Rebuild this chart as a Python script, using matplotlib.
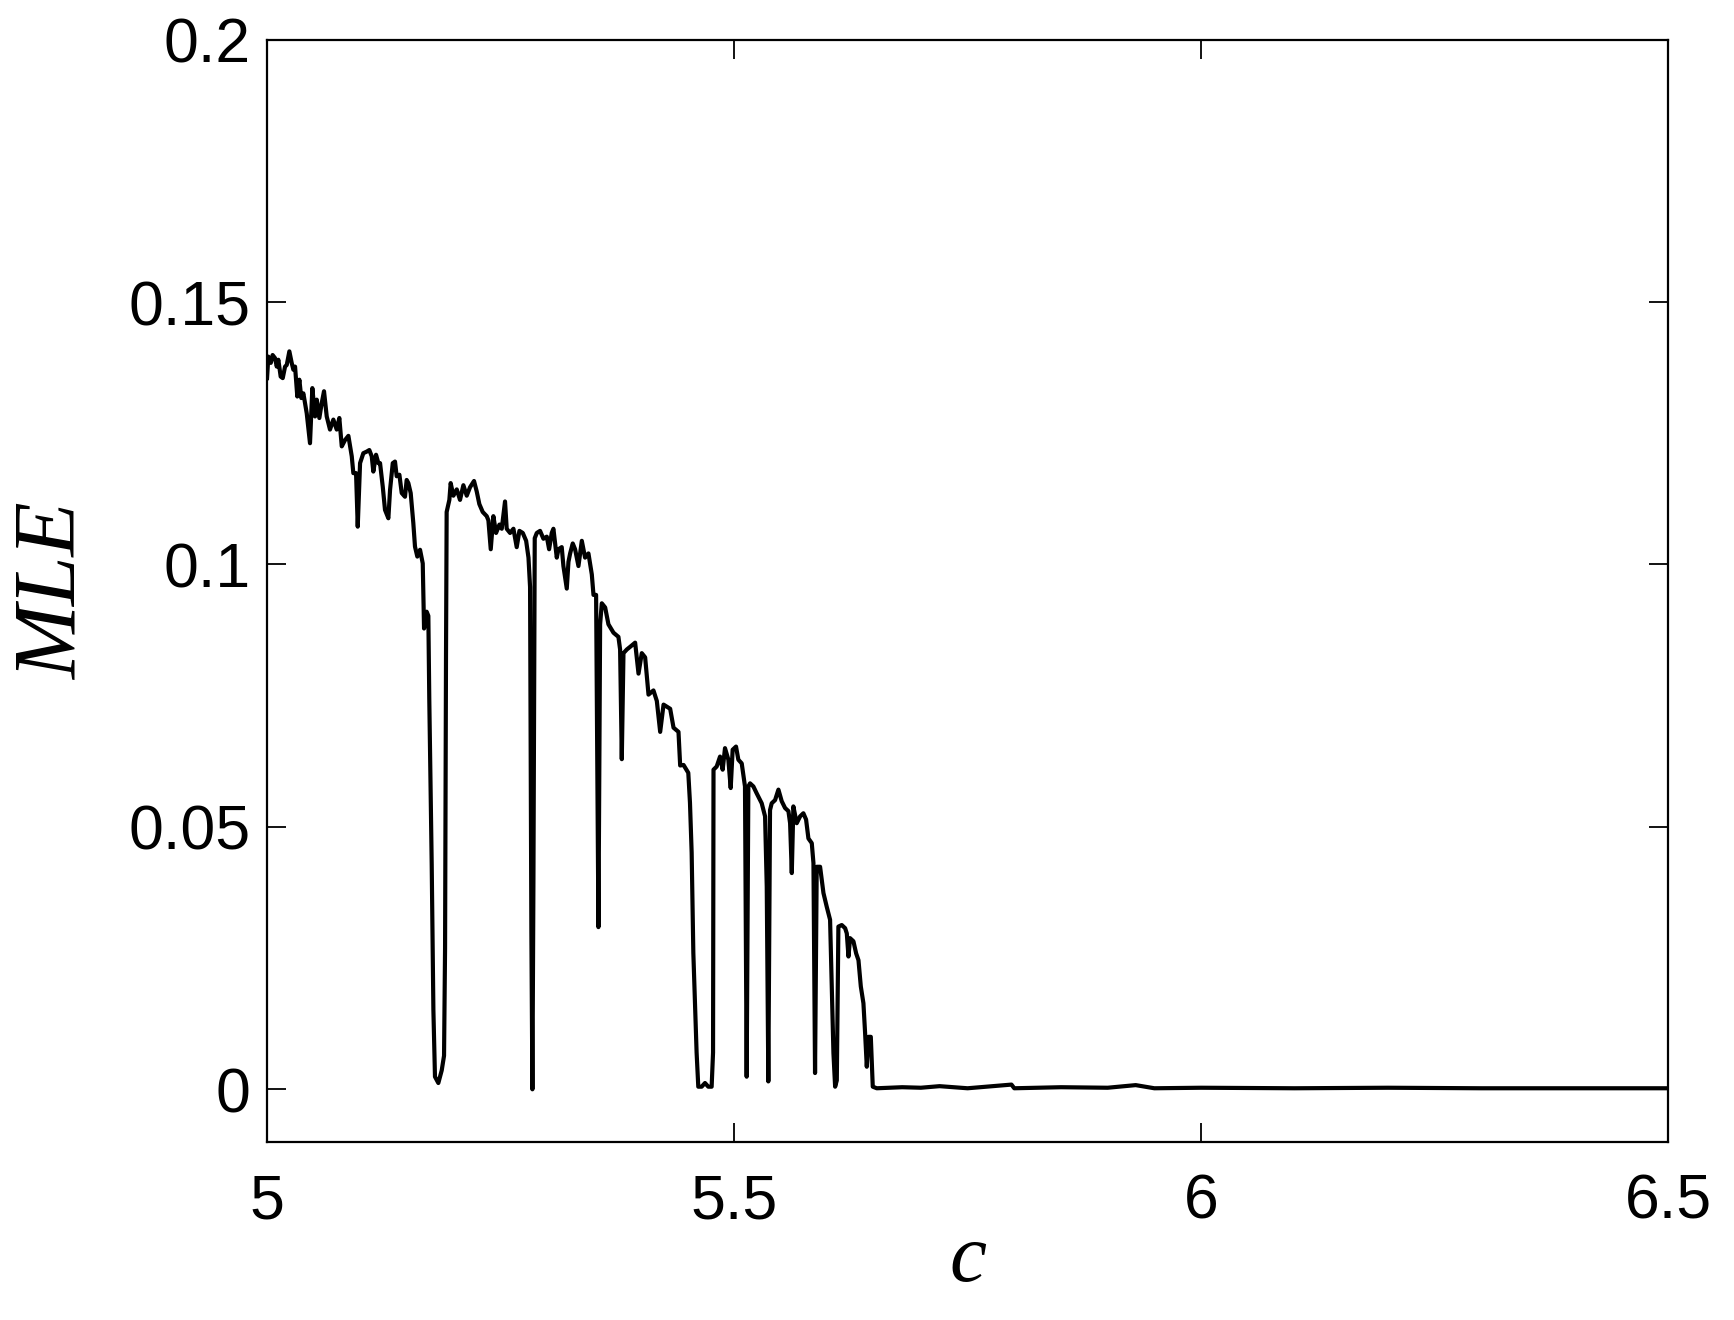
import matplotlib
matplotlib.use('Agg')
import matplotlib.pyplot as plt

# parameter c and maximal Lyapunov exponent
c_vals = [5.000, 5.0014, 5.004, 5.006, 5.0086, 5.0104, 5.0121, 5.0146, 5.0168, 5.0193,
          5.0211, 5.0239, 5.0264, 5.0282, 5.0300, 5.0324, 5.0346, 5.0367, 5.0389, 5.0425,
          5.0460, 5.0485, 5.0514, 5.0532, 5.0560, 5.0585, 5.0610, 5.0639, 5.0674, 5.0710,
          5.0746, 5.0774, 5.0800, 5.0835, 5.0871, 5.0907, 5.0924, 5.0953, 5.0971, 5.0996,
          5.1031, 5.1067, 5.1095, 5.1121, 5.1138, 5.1167, 5.1192, 5.1210, 5.1239, 5.1263,
          5.1299, 5.1317, 5.1346, 5.1370, 5.1388, 5.1417, 5.1442, 5.1477, 5.1495, 5.1513,
          5.1538, 5.1566, 5.1584, 5.1609, 5.1638, 5.1667,
          5.1681, 5.1709, 5.1727, 5.1737, 5.1763, 5.1781, 5.1798, 5.1834, 5.1870, 5.1895,
          5.1906, 5.1916, 5.1923, 5.1952, 5.1966, 5.1995, 5.2031, 5.2066, 5.2102, 5.2138,
          5.2173, 5.2216, 5.2245, 5.2273, 5.2309, 5.2352, 5.2370, 5.2395, 5.2423, 5.2452,
          5.2488, 5.2513, 5.2548, 5.2566, 5.2602, 5.2638, 5.2673, 5.2702, 5.2738, 5.2774,
          5.2799, 5.2816, 5.2830, 5.2841, 5.2852, 5.2866, 5.2888, 5.2923, 5.2959, 5.2995,
          5.3020, 5.3048, 5.3066, 5.3102, 5.3120, 5.3155, 5.3173, 5.3209, 5.3227, 5.3245,
          5.3273, 5.3298, 5.3334, 5.3370, 5.3405, 5.3441, 5.3477, 5.3495, 5.3523, 5.3548,
          5.3566, 5.3584, 5.3620, 5.3655, 5.3709, 5.3762, 5.3780, 5.3798, 5.3816, 5.3852,
          5.3887, 5.3941, 5.3977, 5.4012, 5.4048, 5.4084, 5.4137, 5.4173, 5.4209, 5.4245,
          5.4280, 5.4316, 5.4352, 5.4405, 5.4423, 5.4459, 5.4510, 5.4528, 5.4546, 5.4564,
          5.4599, 5.4617, 5.4653, 5.4689, 5.4724, 5.4760, 5.4775, 5.4780,
          5.4814, 5.4850, 5.4878, 5.4903, 5.4939, 5.4964, 5.4985, 5.5021, 5.5046, 5.5082,
          5.5117, 5.5135, 5.5153, 5.5171, 5.5207, 5.5242, 5.5296, 5.5332, 5.5350, 5.5367,
          5.5385, 5.5403, 5.5439, 5.5475, 5.5510, 5.5546, 5.5582, 5.5600, 5.5618, 5.5635,
          5.5671, 5.5707, 5.5742, 5.5771, 5.5796, 5.5832, 5.5850, 5.5867, 5.5885, 5.5921,
          5.5957, 5.5992, 5.6028, 5.6046, 5.6064, 5.6082, 5.6100, 5.6117, 5.6153, 5.6189,
          5.6207, 5.6225, 5.6242, 5.6278, 5.6307, 5.6332, 5.6357, 5.6385, 5.6403, 5.6421,
          5.6439, 5.6464, 5.6485, 5.6528,
          5.68, 5.70, 5.72, 5.75, 5.797, 5.80, 5.85, 5.90, 5.93, 5.95,
          6.0, 6.1, 6.2, 6.3, 6.4, 6.5]

mle_vals = [0.1355, 0.1396, 0.1384, 0.1399, 0.1393, 0.1377, 0.1390, 0.1358, 0.1355, 0.1377,
            0.1380, 0.1406, 0.1384, 0.1371, 0.1377, 0.1320, 0.1352, 0.1317, 0.1326, 0.1288,
            0.1231, 0.1336, 0.1282, 0.1314, 0.1279, 0.1307, 0.1330, 0.1282, 0.1257, 0.1276,
            0.1257, 0.1279, 0.1225, 0.1237, 0.1245, 0.1206, 0.1174, 0.1174, 0.1072, 0.1193,
            0.1212, 0.1215, 0.1218, 0.1206, 0.1177, 0.1209, 0.1193, 0.1193, 0.1148, 0.1104,
            0.1088, 0.1142, 0.1193, 0.1196, 0.1168, 0.1171, 0.1136, 0.1129, 0.1161, 0.1155,
            0.1136, 0.1079, 0.1034, 0.1015, 0.1028, 0.1002,
            0.0878, 0.0910, 0.0902, 0.0744, 0.0428, 0.0151, 0.0024, 0.0012, 0.0036, 0.0064,
            0.0269, 0.0823, 0.1100, 0.1123, 0.1155, 0.1131, 0.1143, 0.1123, 0.1151, 0.1131,
            0.1147, 0.1159, 0.1139, 0.1115, 0.1100, 0.1092, 0.1084, 0.1029, 0.1092, 0.1060,
            0.1076, 0.1068, 0.1120, 0.1068, 0.1060, 0.1068, 0.1033, 0.1064, 0.1060, 0.1045,
            0.1013, 0.0957, 0.0300, 0.0000, 0.0400, 0.1050, 0.1060, 0.1064, 0.1049, 0.1053,
            0.1029, 0.1060, 0.1068, 0.1013, 0.1029, 0.1033, 0.0997, 0.0954, 0.1005, 0.1021,
            0.1040, 0.1029, 0.0997, 0.1045, 0.1013, 0.1021, 0.0981, 0.0942, 0.0942, 0.0309,
            0.0886, 0.0926, 0.0918, 0.0886, 0.0870, 0.0862, 0.0838, 0.0629, 0.0831, 0.0838,
            0.0843, 0.0851, 0.0792, 0.0831, 0.0823, 0.0752, 0.0760, 0.0740, 0.0681, 0.0733,
            0.0729, 0.0725, 0.0689, 0.0681, 0.0617, 0.0618, 0.0603, 0.0546, 0.0451, 0.0260,
            0.0070, 0.0005, 0.0005, 0.0012, 0.0005, 0.0005, 0.0070, 0.0609,
            0.0615, 0.0634, 0.0609, 0.0650, 0.0628, 0.0574, 0.0647, 0.0653, 0.0628, 0.0621,
            0.0577, 0.0024, 0.0577, 0.0583, 0.0577, 0.0564, 0.0545, 0.0520, 0.0386, 0.0015,
            0.0532, 0.0545, 0.0551, 0.0571, 0.0549, 0.0536, 0.0530, 0.0507, 0.0412, 0.0539,
            0.0507, 0.0520, 0.0526, 0.0514, 0.0478, 0.0469, 0.0431, 0.0031, 0.0424, 0.0424,
            0.0374, 0.0348, 0.0323, 0.0196, 0.0069, 0.0005, 0.0017, 0.0310, 0.0313, 0.0307,
            0.0297, 0.0253, 0.0288, 0.0282, 0.0259, 0.0246, 0.0196, 0.0164, 0.0107, 0.0043,
            0.0100, 0.0100, 0.0005, 0.0002,
            0.0004, 0.0003, 0.0006, 0.0002, 0.0009, 0.0002, 0.0004, 0.0003, 0.0008, 0.0002,
            0.0003, 0.0002, 0.0003, 0.0002, 0.0002, 0.0002]

x_ticks = [5, 5.5, 6, 6.5]
x_tick_labels = ['5', '5.5', '6', '6.5']
y_ticks = [0, 0.05, 0.1, 0.15, 0.2]
y_tick_labels = ['0', '0.05', '0.1', '0.15', '0.2']

fig = plt.figure(figsize=(17.34, 13.2), dpi=100)
ax = fig.add_axes([0.154, 0.135, 0.808, 0.835])

ax.plot(c_vals, mle_vals, color='black', linewidth=3.0)

ax.set_xlim(5, 6.5)
ax.set_ylim(-0.01, 0.2)
ax.set_xticks(x_ticks)
ax.set_xticklabels(x_tick_labels)
ax.set_yticks(y_ticks)
ax.set_yticklabels(y_tick_labels)

for lab in ax.get_xticklabels() + ax.get_yticklabels():
    lab.set_fontfamily('Liberation Sans')
    lab.set_fontsize(45)

ax.tick_params(direction='in', length=14, width=1.3, top=True, right=True)
ax.tick_params(axis='x', pad=22)
ax.tick_params(axis='y', pad=12)
for sp in ax.spines.values():
    sp.set_linewidth(1.6)

ax.set_xlabel('c', family='Liberation Serif', style='italic', fontsize=60, va='center')
ax.xaxis.set_label_coords(0.5, -0.108)
ax.set_ylabel('MLE', family='Liberation Serif', style='italic', fontsize=64, va='center')
ax.yaxis.set_label_coords(-0.152, 0.5)

fig.savefig('out.png', dpi=100)
